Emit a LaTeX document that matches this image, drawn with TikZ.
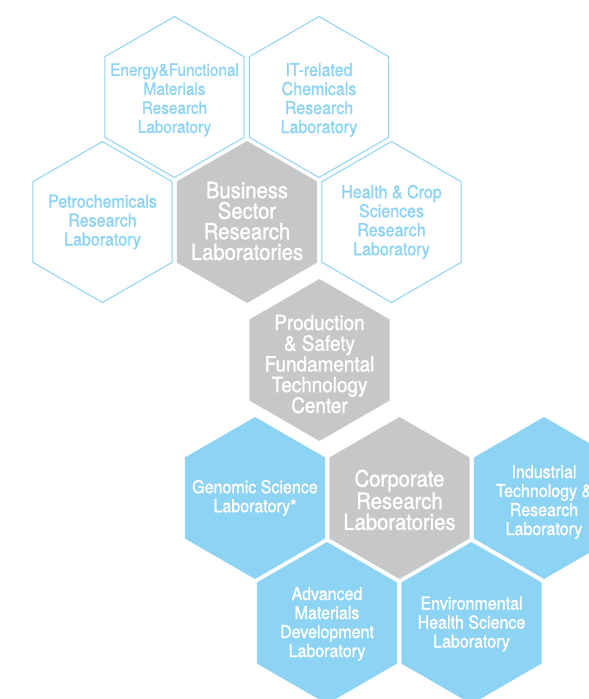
\documentclass[tikz,border=0pt]{standalone}
\usepackage{fontspec}
\setmainfont{TeX Gyre Heros}[FakeStretch=0.9, FakeBold=1.3]
\usetikzlibrary{shapes.geometric, positioning}
\definecolor{labblue}{RGB}{141,211,244}
\definecolor{labgray}{RGB}{197,199,201}
\tikzstyle{hex} = [regular polygon, regular polygon sides=6, shape border rotate=30, inner sep=0pt]
\tikzstyle{hexline} = [hex, draw=labblue, line width=1pt, minimum size=161pt]
\tikzstyle{hexblue} = [hex, fill=labblue, minimum size=162pt]
\tikzstyle{hexgray} = [hex, fill=labgray, minimum size=162pt]
\tikzstyle{labtext} = [align=center, inner sep=0pt, font=\fontsize{17.8}{19}\selectfont]
\tikzstyle{unittext} = [align=center, inner sep=0pt, text=white, font=\fontsize{22.5}{20.6}\selectfont]

\begin{document}
\begin{tikzpicture}[x=1pt, y=-1pt, node distance=144.5pt]
  \useasboundingbox (0,0) rectangle (589,699);
  \clip (0,0) rectangle (589,699);
  % business sector
  \node[hexline] (energy) at (174.5,97) {};
  \node[hexline, right of=energy] (itchem) {};
  \node[hexline] (petro) at (102.5,222) {};
  \node[hexgray, right of=petro] (business) {};
  \node[hexline, right of=business] (health) {};
  \node[labtext, text=labblue, yshift=-3pt, font=\fontsize{17}{19}\selectfont] (energy-t) at (energy) {Energy\&Functional\\Materials\\Research\\Laboratory};
  \node[labtext, text=labblue, yshift=-3pt] (itchem-t) at (itchem) {IT-related\\Chemicals\\Research\\Laboratory};
  \node[labtext, text=labblue] (petro-t) at (petro) {Petrochemicals\\Research\\Laboratory};
  \node[unittext, yshift=1pt] (business-t) at (business) {Business\\Sector\\Research\\Laboratories};
  \node[labtext, text=labblue] (health-t) at (health) {Health \& Crop\\Sciences\\Research\\Laboratory};
  % production
  \node[hexgray] (production) at (319.5,360) {};
  \node[unittext, yshift=-4pt, font=\fontsize{21}{20.7}\selectfont] (production-t) at (production) {Production\\\& Safety\\Fundamental\\Technology\\Center};
  % corporate
  \node[hexblue] (genomic) at (255,498) {};
  \node[hexgray, right of=genomic] (corporate) {};
  \node[hexblue, right of=corporate] (industrial) {};
  \node[hexblue] (advanced) at (327,623) {};
  \node[hexblue, right of=advanced] (environ) {};
  \node[labtext, text=white] (genomic-t) at (genomic) {Genomic Science\\Laboratory*};
  \node[unittext, yshift=-2pt, font=\fontsize{22.5}{21}\selectfont] (corporate-t) at (corporate) {Corporate\\Research\\Laboratories};
  \node[labtext, text=white, yshift=-4pt] (industrial-t) at (industrial) {Industrial\\Technology \&\\Research\\Laboratory};
  \node[labtext, text=white, yshift=-1pt] (advanced-t) at (advanced) {Advanced\\Materials\\Development\\Laboratory};
  \node[labtext, text=white, yshift=-1pt] (environ-t) at (environ) {Environmental\\Health Science\\Laboratory};
\end{tikzpicture}
\end{document}
